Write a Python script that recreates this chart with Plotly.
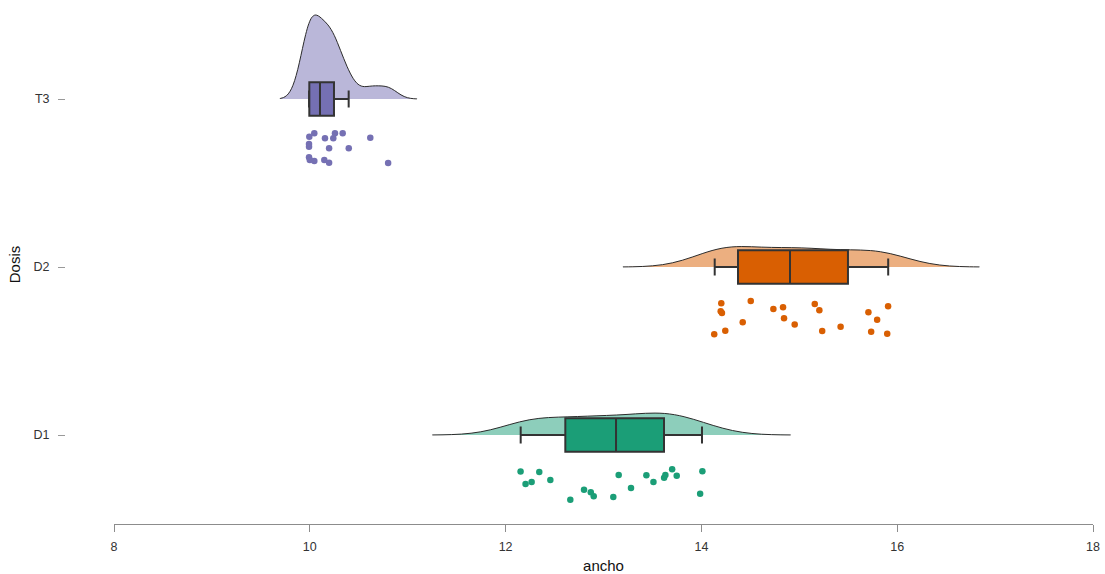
import numpy as np
import plotly.graph_objects as go

# ---------------- data ----------------
categories = ["D1", "D2", "T3"]
positions = [1, 2, 3]

d1_values = [12.153, 12.344, 12.204, 12.266, 12.457, 13.155, 13.438, 13.510, 13.619, 13.632,
             13.701, 13.748, 14.010, 13.987, 12.801, 12.870, 12.900, 12.661, 13.100, 13.281]
d1_jitter = [-0.218, -0.220, -0.292, -0.280, -0.268, -0.238, -0.240, -0.280, -0.254, -0.238,
             -0.204, -0.242, -0.216, -0.349, -0.326, -0.341, -0.365, -0.385, -0.369, -0.315]

d2_values = [14.203, 14.197, 14.210, 14.504, 14.735, 14.834, 15.158, 15.205, 15.706, 15.907,
             14.422, 14.844, 14.953, 15.795, 14.131, 14.244, 15.234, 15.422, 15.734, 15.898]
d2_jitter = [-0.216, -0.263, -0.274, -0.202, -0.250, -0.240, -0.220, -0.258, -0.270, -0.234,
             -0.329, -0.305, -0.343, -0.314, -0.401, -0.379, -0.381, -0.355, -0.385, -0.397]

t3_values = [9.995, 10.046, 9.992, 9.992, 10.155, 10.240, 10.257, 10.336, 10.618, 10.197,
             10.398, 9.992, 10.000, 10.046, 10.148, 10.197, 10.800]
t3_jitter = [-0.224, -0.204, -0.268, -0.284, -0.234, -0.234, -0.204, -0.204, -0.230, -0.293,
             -0.293, -0.347, -0.363, -0.369, -0.363, -0.379, -0.381]

# box statistics (D1, D2, T3)
box_q1 = [12.610, 14.374, 9.995]
box_median = [13.128, 14.905, 10.104]
box_q3 = [13.618, 15.497, 10.247]
box_low = [12.154, 14.136, 9.992]
box_high = [14.006, 15.908, 10.397]

x_ticks = [8, 10, 12, 14, 16, 18]

box_colors = ["#1b9e77", "#d95f02", "#7570b3"]
fill_colors = ["rgba(27,158,119,0.5)", "rgba(217,95,2,0.5)", "rgba(117,112,179,0.5)"]

values = [d1_values, d2_values, t3_values]
jitters = [d1_jitter, d2_jitter, t3_jitter]


def nrd0(x):
    x = np.asarray(x, dtype=float)
    sd = x.std(ddof=1)
    iqr = np.subtract(*np.percentile(x, [75, 25]))
    lo = min(sd, iqr / 1.34)
    return 0.9 * lo * len(x) ** (-0.2)


def max_kde(x, bw):
    x = np.asarray(x, dtype=float)
    grid = np.linspace(x.min() - 3 * bw, x.max() + 3 * bw, 512)
    d = np.exp(-0.5 * ((grid[:, None] - x[None, :]) / bw) ** 2).sum(axis=1)
    d /= len(x) * bw * np.sqrt(2 * np.pi)
    return d.max()


bws = [nrd0(v) for v in values]
peaks = [max_kde(v, b) for v, b in zip(values, bws)]
peak_all = max(peaks)
max_violin_width = 1.0  # full width in category units for the tallest density

fig = go.Figure()

# half violins (densities), scaled to equal area
for i in range(3):
    v = values[i]
    bw = bws[i]
    fig.add_trace(go.Violin(
        x=v, y0=positions[i], orientation="h", side="positive",
        bandwidth=bw, spanmode="manual", span=[min(v) - 3 * bw, max(v) + 3 * bw],
        points=False, box_visible=False, meanline_visible=False,
        fillcolor=fill_colors[i], line=dict(color="#2b2b2b", width=1),
        width=max_violin_width * peaks[i] / peak_all, scalemode="width",
        showlegend=False, hoverinfo="skip",
    ))

# boxes
for i in range(3):
    fig.add_trace(go.Box(
        y=[positions[i]], q1=[box_q1[i]], median=[box_median[i]], q3=[box_q3[i]],
        lowerfence=[box_low[i]], upperfence=[box_high[i]], orientation="h",
        fillcolor=box_colors[i], line=dict(color="#333333", width=2),
        width=0.2, whiskerwidth=0.5, boxpoints=False, showlegend=False,
    ))

# rain points
for i in range(3):
    fig.add_trace(go.Scatter(
        x=values[i], y=[positions[i] + j for j in jitters[i]], mode="markers",
        marker=dict(color=box_colors[i], size=6.5, line=dict(width=0)),
        showlegend=False,
    ))

W, H = 1105, 574
ml, mr, mt, mb = 65, 12, 5, 50
pw = W - ml - mr
left_pad = 49  # px between plot left edge and x=8
fig.update_layout(
    width=W, height=H,
    margin=dict(l=ml, r=mr, t=mt, b=mb, autoexpand=False),
    plot_bgcolor="white", paper_bgcolor="white",
    font=dict(family="Liberation Sans, Arial, sans-serif", color="#333333", size=12),
    boxmode="overlay", violinmode="overlay",
    xaxis=dict(
        domain=[left_pad / pw, 1], range=[min(x_ticks), max(x_ticks)],
        tickvals=x_ticks, ticktext=[str(t) for t in x_ticks],
        showline=True, linecolor="#8c8c8c", linewidth=1,
        ticks="outside", ticklen=7, tickcolor="#8c8c8c", tickwidth=1,
        showgrid=False, zeroline=False, ticklabelstandoff=4, automargin=False,
        tickfont=dict(size=12.5, color="#333333"),
        title=dict(text="ancho", font=dict(size=15, color="#111111"), standoff=8),
    ),
    yaxis=dict(
        anchor="free", position=0, automargin=False,
        range=[1 - 89 / 168, 1 + 430 / 168],
        tickvals=positions, ticktext=categories,
        showline=False, ticks="outside", ticklen=7, tickcolor="#999999", tickwidth=1,
        showgrid=False, zeroline=False, ticklabelstandoff=6,
        tickfont=dict(size=12.5, color="#333333"),
        title=dict(text="Dosis", font=dict(size=15, color="#111111"), standoff=8),
    ),
)

fig.write_html("out.html")
